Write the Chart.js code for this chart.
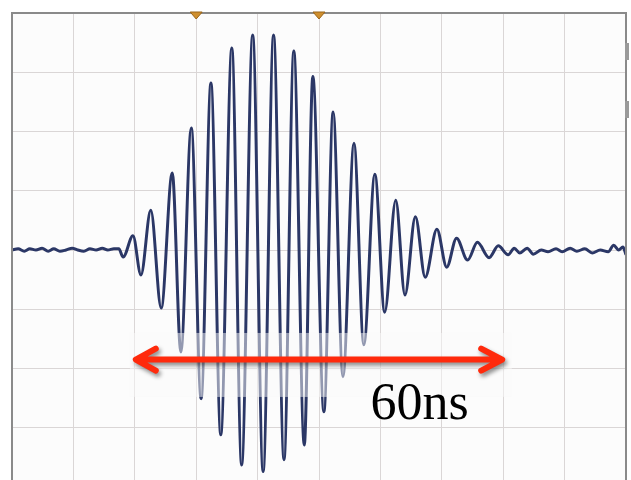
<!DOCTYPE html>
<html>
<head>
<meta charset="utf-8">
<script src="https://cdn.jsdelivr.net/npm/chart.js@4"></script>
<style>
  html, body { margin: 0; padding: 0; background: #ffffff; overflow: hidden; }
  #wrap { position: absolute; left: 0; top: 0; width: 631px; height: 488px; }
</style>
</head>
<body>
<div id="wrap"><canvas id="scope" width="631" height="488"></canvas></div>
<script>
// Time axis in ns (10 ns per division), level in vertical divisions
const timeNs = [
  0, 1.0, 2.0, 2.9, 3.9, 4.9, 5.9, 6.8, 7.8, 8.8, 9.8, 10.7, 11.7, 12.7, 13.7, 14.7, 15.6, 16.6, 17.4,
  18.1, 19.7, 21.0, 22.6, 24.3, 26.1, 27.5, 29.2, 30.8, 32.4, 34.0, 35.8, 37.4, 39.2, 40.9, 42.6, 44.3, 45.9, 47.6, 49.0,
  50.8, 52.3, 53.9, 55.7, 57.3, 59.1, 60.7, 62.5, 64.0, 65.7, 67.3, 69.2, 70.8, 72.4, 74.2, 75.8, 77.7, 79.2, 80.8,
  81.8, 82.7, 83.9, 84.9, 86.2, 87.3, 88.6, 89.6, 90.9, 92.0, 93.3, 94.5, 95.8, 97.1, 98.0, 98.8, 99.5, 100
];
const levelDiv = [
  0, 0.02, -0.02, 0.02, 0, 0.03, -0.02, 0.02, -0.02, 0, 0.03, 0, -0.02, 0.02, 0, 0.03, 0, 0.02, 0.02,
  -0.12, 0.24, -0.42, 0.67, -0.98, 1.30, -1.72, 2.06, -2.51, 2.82, -3.12, 3.41, -3.63, 3.63, -3.74, 3.63, -3.54, 3.36, -3.29, 2.93,
  -2.73, 2.33, -2.14, 1.80, -1.60, 1.28, -1.05, 0.84, -0.76, 0.56, -0.46, 0.35, -0.29, 0.20, -0.17, 0.13, -0.13, 0.07, -0.08,
  0.03, -0.05, 0.03, -0.07, 0, -0.03, 0.02, -0.03, 0.03, -0.02, 0.02, -0.05, 0, -0.03, 0.08, 0, 0.05, -0.08
];

// Top-edge markers (ns)
const markerNs = [30, 50];

// Span annotation
const spanStartNs = 20;
const spanEndNs = 80;
const spanLevel = -1.85;
const spanLabel = '60ns';
const spanLabelNs = 66.4;
const spanLabelLevel = -2.85;

const points = timeNs.map((t, i) => ({ x: t, y: levelDiv[i] }));

// background, frame, markers and the span arrow
const scopeDecor = {
  id: 'scopeDecor',
  beforeDraw(chart) {
    const { ctx, chartArea: a } = chart;
    ctx.save();
    ctx.fillStyle = '#fcfcfc';
    ctx.fillRect(a.left, a.top, a.right - a.left, a.bottom - a.top);
    ctx.restore();
  },
  afterDatasetsDraw(chart) {
    const { ctx, chartArea: a, scales } = chart;
    const xs = scales.x, ys = scales.y;

    // translucent box behind the arrow
    ctx.save();
    ctx.fillStyle = 'rgba(250,250,250,0.5)';
    const bx1 = xs.getPixelForValue(19.2), bx2 = xs.getPixelForValue(81.4);
    const by1 = ys.getPixelForValue(-1.40), by2 = ys.getPixelForValue(-2.48);
    ctx.fillRect(bx1, by1, bx2 - bx1, by2 - by1);
    ctx.restore();

    // frame
    ctx.save();
    ctx.strokeStyle = '#8a8a8a';
    ctx.lineWidth = 2;
    ctx.beginPath();
    ctx.moveTo(a.left, a.bottom);
    ctx.lineTo(a.left, a.top);
    ctx.lineTo(a.right, a.top);
    ctx.lineTo(a.right, a.bottom);
    ctx.stroke();
    ctx.fillStyle = '#9a9a9a';
    ctx.fillRect(a.right - 1, a.top + 30, 4, 17);
    ctx.fillRect(a.right - 1, a.top + 88, 4, 17);
    ctx.restore();

    // markers
    ctx.save();
    ctx.fillStyle = '#cf8f2e';
    ctx.strokeStyle = '#9a6418';
    ctx.lineWidth = 1;
    markerNs.forEach(m => {
      const px = xs.getPixelForValue(m);
      ctx.beginPath();
      ctx.moveTo(px - 6, a.top - 1);
      ctx.lineTo(px + 6, a.top - 1);
      ctx.lineTo(px, a.top + 6);
      ctx.closePath();
      ctx.fill();
      ctx.stroke();
    });
    ctx.restore();

    // arrow
    const x1 = xs.getPixelForValue(spanStartNs);
    const x2 = xs.getPixelForValue(spanEndNs);
    const y = ys.getPixelForValue(spanLevel);
    ctx.save();
    ctx.shadowColor = 'rgba(0,0,0,0.45)';
    ctx.shadowBlur = 4;
    ctx.shadowOffsetX = 2;
    ctx.shadowOffsetY = 3;
    ctx.strokeStyle = '#ff2a0c';
    ctx.lineWidth = 6;
    ctx.lineCap = 'round';
    ctx.lineJoin = 'round';
    ctx.beginPath();
    ctx.moveTo(x1 + 2, y);
    ctx.lineTo(x2 - 2, y);
    ctx.moveTo(x1 + 21, y - 11);
    ctx.lineTo(x1 + 1, y);
    ctx.lineTo(x1 + 21, y + 11);
    ctx.moveTo(x2 - 22, y - 11);
    ctx.lineTo(x2 - 1, y);
    ctx.lineTo(x2 - 22, y + 11);
    ctx.stroke();
    ctx.restore();

    // label
    ctx.save();
    ctx.fillStyle = '#000000';
    ctx.font = '52px "Liberation Serif", "Times New Roman", serif';
    ctx.textAlign = 'center';
    ctx.textBaseline = 'alphabetic';
    ctx.fillText(spanLabel, xs.getPixelForValue(spanLabelNs), ys.getPixelForValue(spanLabelLevel));
    ctx.restore();
  }
};

new Chart(document.getElementById('scope'), {
  type: 'line',
  data: {
    datasets: [{
      data: points,
      borderColor: '#2b3766',
      borderWidth: 3,
      pointRadius: 0,
      cubicInterpolationMode: 'monotone',
      fill: false
    }]
  },
  options: {
    responsive: false,
    animation: false,
    layout: { padding: { left: 12, top: 13, right: 5, bottom: 1 } },
    plugins: {
      legend: { display: false },
      tooltip: { enabled: false }
    },
    scales: {
      x: {
        type: 'linear',
        min: 0,
        max: 100,
        ticks: { display: false, stepSize: 10 },
        grid: { color: '#dad6d6', lineWidth: 1, drawTicks: false },
        border: { display: false }
      },
      y: {
        type: 'linear',
        min: -4,
        max: 4,
        ticks: { display: false, stepSize: 1 },
        grid: { color: '#dad6d6', lineWidth: 1, drawTicks: false },
        border: { display: false }
      }
    }
  },
  plugins: [scopeDecor]
});
</script>
</body>
</html>
